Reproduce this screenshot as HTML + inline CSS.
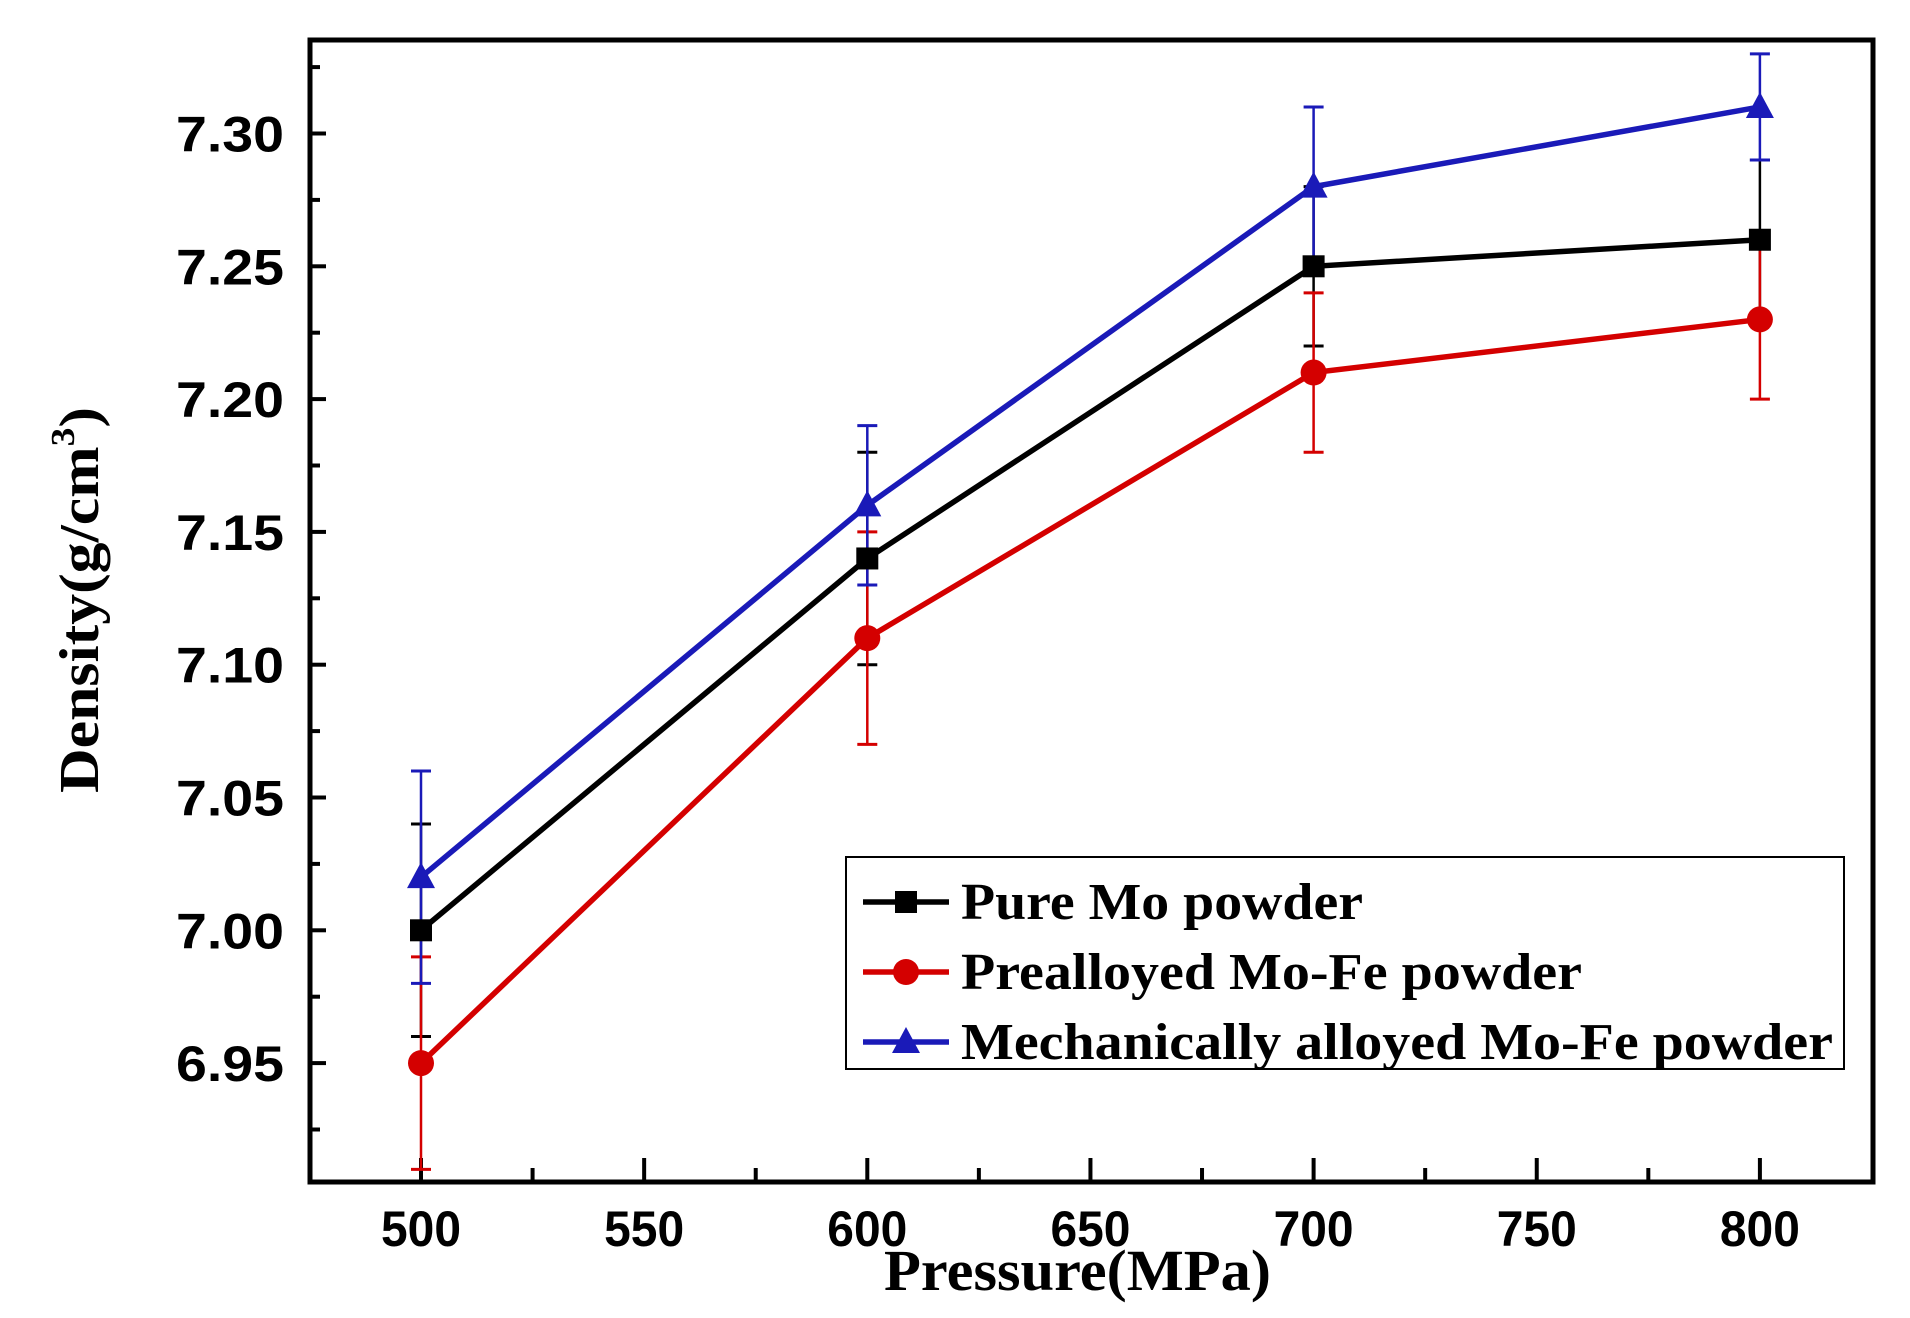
<!DOCTYPE html>
<html><head><meta charset="utf-8"><style>
html,body{margin:0;padding:0;background:#fff;}
svg{display:block;}
</style></head><body>
<svg id="s" width="1910" height="1318" xmlns="http://www.w3.org/2000/svg"></svg>
<script>
const s=document.getElementById('s');
const X=v=>421+(v-500)*4.463;
const Y=v=>133.5+(7.30-v)/0.05*132.8;
let h='';
h+='<rect x="310" y="40" width="1563" height="1142" fill="none" stroke="#000" stroke-width="5"/>';
for(let i=0;i<=17;i++){const v=6.925+i*0.025;const y=Y(v);if(y<42||y>1180)continue;const major=Math.abs((v*1000)%50)<1||Math.abs((v*1000)%50-50)<1;h+=`<line x1="310" x2="${major?326:320}" y1="${y}" y2="${y}" stroke="#000" stroke-width="4"/>`;if(major)h+=`<text x="176" y="${y+18}" textLength="108" lengthAdjust="spacingAndGlyphs" font-family="Liberation Sans,sans-serif" font-weight="bold" font-size="50">${v.toFixed(2)}</text>`;}
for(let p=500;p<=800;p+=25){const x=X(p);const major=p%50==0;h+=`<line x1="${x}" x2="${x}" y1="1182" y2="${major?1158:1168}" stroke="#000" stroke-width="4"/>`;if(major)h+=`<text x="${x-40}" y="1246" textLength="80" lengthAdjust="spacingAndGlyphs" font-family="Liberation Sans,sans-serif" font-weight="bold" font-size="50">${p}</text>`;}
h+='<text x="884" y="1290" textLength="387" lengthAdjust="spacingAndGlyphs" font-family="Liberation Serif,serif" font-weight="bold" font-size="58">Pressure(MPa)</text>';
h+='<text transform="translate(98,600) rotate(-90)" text-anchor="middle" textLength="386" lengthAdjust="spacingAndGlyphs" font-family="Liberation Serif,serif" font-weight="bold" font-size="56">Density(g/cm<tspan dy="-24" font-size="34">3</tspan><tspan dy="24">)</tspan></text>';
const P=[500,600,700,800];
const series=[
 {c:'#000',v:[7.00,7.14,7.25,7.26],e:[0.04,0.04,0.03,0.03],m:'sq'},
 {c:'#d40000',v:[6.95,7.11,7.21,7.23],e:[0.04,0.04,0.03,0.03],m:'ci'},
 {c:'#1a1ab8',v:[7.02,7.16,7.28,7.31],e:[0.04,0.03,0.03,0.02],m:'tr'}];
function mk(m,x,y,c){if(m=='sq')return `<rect x="${x-11}" y="${y-11}" width="22" height="22" fill="${c}"/>`;if(m=='ci')return `<circle cx="${x}" cy="${y}" r="13" fill="${c}"/>`;return `<polygon points="${x},${y-15} ${x-14},${y+11} ${x+14},${y+11}" fill="${c}"/>`;}
for(const se of series){
 for(let i=0;i<4;i++){const x=X(P[i]);const t=Y(se.v[i]+se.e[i]),b=Y(se.v[i]-se.e[i]);h+=`<line x1="${x}" x2="${x}" y1="${t}" y2="${b}" stroke="${se.c}" stroke-width="2.5"/><line x1="${x-10}" x2="${x+10}" y1="${t}" y2="${t}" stroke="${se.c}" stroke-width="3"/><line x1="${x-10}" x2="${x+10}" y1="${b}" y2="${b}" stroke="${se.c}" stroke-width="3"/>`;}
}
for(const se of series){
 h+=`<polyline points="${P.map((p,i)=>X(p)+','+Y(se.v[i])).join(' ')}" fill="none" stroke="${se.c}" stroke-width="5.5"/>`;
 for(let i=0;i<4;i++)h+=mk(se.m,X(P[i]),Y(se.v[i]),se.c);
}
h+='<rect x="846" y="857" width="998" height="212" fill="#fff" stroke="#000" stroke-width="2"/>';
const names=['Pure Mo powder','Prealloyed Mo-Fe powder','Mechanically alloyed Mo-Fe powder'];
const lens=[402,621,872];
[897,967,1037].forEach((y,i)=>{const c=series[i].c;h+=`<line x1="863" x2="949" y1="${y+5}" y2="${y+5}" stroke="${c}" stroke-width="5.5"/>`+mk(series[i].m,906,y+5,c)+`<text x="961" y="${y+22}" textLength="${lens[i]}" lengthAdjust="spacingAndGlyphs" font-family="Liberation Serif,serif" font-weight="bold" font-size="52">${names[i]}</text>`;});
s.innerHTML=h;
</script>
</body></html>
